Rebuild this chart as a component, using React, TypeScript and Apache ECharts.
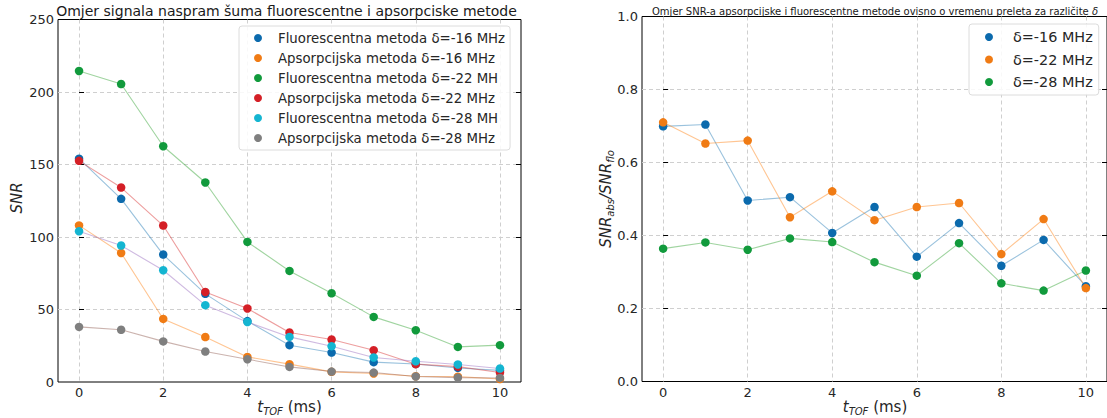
import React, { useEffect, useRef } from "react";
import * as echarts from "echarts";

// ---- data ----
const tof = [0, 1, 2, 3, 4, 5, 6, 7, 8, 9, 10];
const xTickValues = [0, 2, 4, 6, 8, 10];
const leftYLabels = [0, 50, 100, 150, 200, 250];
const leftYInner = [50, 100, 150, 200];
const rightYLabels = [0, 0.2, 0.4, 0.6, 0.8, 1.0];
const rightYInner = [0.2, 0.4, 0.6, 0.8];

const fluo16 = [154, 126.3, 87.9, 60.8, 42, 25.4, 20.3, 13.7, 12.4, 9.7, 8.0];
const abs16 = [108, 89, 43.5, 31, 17.3, 12.3, 7, 5.9, 4, 3.7, 2.1];
const fluo22 = [214.5, 205.5, 162.6, 137.6, 96.6, 76.6, 61.2, 44.9, 35.7, 24.2, 25.4];
const abs22 = [152.5, 134.1, 107.9, 62.1, 50.7, 34.1, 29.3, 21.9, 12.3, 10.6, 6.5];
const fluo28 = [104, 94.1, 77.1, 53, 41.4, 31.1, 24.7, 16.9, 14.3, 12.1, 9.3];
const abs28 = [38, 36, 28, 21, 15.7, 10.4, 7.2, 6.5, 3.8, 3, 2.8];

const ratio16 = [0.699, 0.704, 0.496, 0.505, 0.407, 0.478, 0.342, 0.434, 0.317, 0.388, 0.261];
const ratio22 = [0.71, 0.652, 0.66, 0.45, 0.521, 0.442, 0.478, 0.489, 0.349, 0.445, 0.256];
const ratio28 = [0.364, 0.381, 0.361, 0.392, 0.382, 0.327, 0.29, 0.379, 0.269, 0.249, 0.304];

const leftNames = [
  "Fluorescentna metoda δ=-16 MHz",
  "Apsorpcijska metoda δ=-16 MHz",
  "Fluorescentna metoda δ=-22 MH",
  "Apsorpcijska metoda δ=-22 MHz",
  "Fluorescentna metoda δ=-28 MH",
  "Apsorpcijska metoda δ=-28 MHz",
];
const rightNames = ["δ=-16 MHz", "δ=-22 MHz", "δ=-28 MHz"];

const leftTitle = "Omjer signala naspram šuma fluorescentne i apsorpciske metode";
const rightTitle = "Omjer SNR-a apsorpcijske i fluorescentne metode ovisno o vremenu preleta za različite ";

const FONT = "DejaVu Sans";
const TXT = "#262626";
const pointColors = ["#0b6aad", "#f07b14", "#119a3c", "#d41f26", "#14b5d1", "#7f7f7f"];
const lineColors = ["#1f77b4", "#ff7f0e", "#2ca02c", "#d62728", "#9467bd", "#8c564b"];

const pairs = (ys: number[]) => tof.map((x, i) => [x, ys[i]]);

export default function App() {
  const ref = useRef<HTMLDivElement>(null);
  useEffect(() => {
    if (!ref.current) return;
    const chart = echarts.init(ref.current, null, { renderer: "svg" });

    const leftData = [fluo16, abs16, fluo22, abs22, fluo28, abs28];
    const rightData = [ratio16, ratio22, ratio28];

    const series: any[] = [];
    const addLines = (data: number[][], xi: number, yi: number) =>
      data.forEach((d, i) =>
        series.push({
          type: "line", xAxisIndex: xi, yAxisIndex: yi, data: pairs(d),
          symbol: "none", silent: true, z: 2,
          lineStyle: { color: lineColors[i], width: 1.1, opacity: 0.45 },
        })
      );
    const addPoints = (data: number[][], names: string[], xi: number, yi: number) =>
      data.forEach((d, i) =>
        series.push({
          type: "scatter", name: names[i], xAxisIndex: xi, yAxisIndex: yi, data: pairs(d),
          symbolSize: 8.5, z: 3, itemStyle: { color: pointColors[i], opacity: 1 },
        })
      );
    addLines(leftData, 0, 0);
    addPoints(leftData, leftNames, 0, 0);
    addLines(rightData, 1, 2);
    addPoints(rightData, rightNames, 1, 2);

    const splitLine = { show: true, lineStyle: { color: "#cfcfcf", width: 1, type: [4, 3] } };
    const xAxisBase = (gridIndex: number) => ({
      gridIndex, type: "value", min: -0.5, max: 10.5,
      axisLine: { show: false },
      axisTick: { show: false, customValues: xTickValues },
      axisLabel: { customValues: xTickValues, fontSize: 13, fontFamily: FONT, color: TXT, margin: 4 },
      splitLine,
    });
    const yTick = (vals: number[]) => ({
      show: true, inside: true, length: 5, customValues: vals, lineStyle: { color: "#000", width: 1 },
    });

    const legendCommon = {
      orient: "vertical", icon: "circle", itemWidth: 8, itemHeight: 8,
      backgroundColor: "rgba(255,255,255,0.85)", borderColor: "#dcdcdc", borderWidth: 1, borderRadius: 3,
      z: 6,
    };

    const option: any = {
      animation: false,
      grid: [
        { left: 58, top: 19.5, width: 463, height: 362.5, show: true, borderColor: "#000", borderWidth: 1, backgroundColor: "transparent" },
        { left: 642, top: 16.5, width: 467, height: 365, show: true, borderColor: "#000", borderWidth: 1, backgroundColor: "transparent" },
      ],
      xAxis: [xAxisBase(0), xAxisBase(1)],
      yAxis: [
        {
          gridIndex: 0, type: "value", min: 0, max: 250, position: "left",
          axisLine: { show: false }, axisTick: yTick(leftYInner),
          axisLabel: { customValues: leftYLabels, fontSize: 13, fontFamily: FONT, color: TXT, margin: 4 },
          splitLine,
        },
        {
          gridIndex: 0, type: "value", min: 0, max: 250, position: "right",
          axisLine: { show: false }, axisTick: yTick(leftYInner), axisLabel: { show: false }, splitLine: { show: false },
        },
        {
          gridIndex: 1, type: "value", min: 0, max: 1, position: "left",
          axisLine: { show: false }, axisTick: yTick(rightYInner),
          axisLabel: { customValues: rightYLabels, fontSize: 13, fontFamily: FONT, color: TXT, margin: 4, formatter: (v: number) => v.toFixed(1) },
          splitLine,
        },
        {
          gridIndex: 1, type: "value", min: 0, max: 1, position: "right",
          axisLine: { show: false }, axisTick: yTick(rightYInner), axisLabel: { show: false }, splitLine: { show: false },
        },
      ],
      legend: [
        {
          ...legendCommon,
          data: leftNames, left: 239, top: 26, itemGap: 6,
          padding: [5, 5, 5, 15],
          textStyle: { fontSize: 13.3, fontFamily: FONT, color: TXT, lineHeight: 14, padding: [0, 0, 0, 11] },
        },
        {
          ...legendCommon,
          data: rightNames, left: 969, top: 24, itemGap: 6.5,
          padding: [5, 6, 5, 16],
          textStyle: { fontSize: 14.4, fontFamily: FONT, color: TXT, lineHeight: 16, padding: [0, 0, 0, 15] },
        },
      ],
      graphic: [
        {
          type: "text", x: 286.5, y: 11, z: 10,
          style: { text: leftTitle, fontSize: 14, fontFamily: FONT, fill: "#1a1a1a", align: "center", verticalAlign: "middle" },
        },
        {
          type: "text", x: 875, y: 11, z: 10,
          style: {
            text: rightTitle + "{i|δ}",
            fontSize: 10, fontFamily: FONT, fill: "#1a1a1a", align: "center", verticalAlign: "middle",
            rich: { i: { fontSize: 10, fontFamily: FONT, fontStyle: "italic", fill: "#1a1a1a" } },
          },
        },
        {
          type: "text", x: 17, y: 198, rotation: Math.PI / 2, z: 10,
          style: { text: "SNR", fontSize: 15, fontFamily: FONT, fontStyle: "italic", fill: TXT, align: "center", verticalAlign: "middle" },
        },
        {
          type: "text", x: 606, y: 199, rotation: Math.PI / 2, z: 10,
          style: {
            text: "{a|SNR}{s|abs}{a|/SNR}{s|flo}",
            align: "center", verticalAlign: "middle", fill: TXT,
            rich: {
              a: { fontSize: 15, fontFamily: FONT, fontStyle: "italic", fill: TXT, lineHeight: 18 },
              s: { fontSize: 10, fontFamily: FONT, fontStyle: "italic", fill: TXT, lineHeight: 12, verticalAlign: "bottom" },
            },
          },
        },
        ...[289.5, 875].map((x) => ({
          type: "text", x, y: 407, z: 10,
          style: {
            text: "{a|t}{s|TOF}{n| (ms)}",
            align: "center", verticalAlign: "middle", fill: TXT,
            rich: {
              a: { fontSize: 15, fontFamily: FONT, fontStyle: "italic", fill: TXT, lineHeight: 18 },
              s: { fontSize: 10, fontFamily: FONT, fontStyle: "italic", fill: TXT, lineHeight: 12, verticalAlign: "bottom" },
              n: { fontSize: 15, fontFamily: FONT, fill: TXT, lineHeight: 18 },
            },
          },
        })),
      ],
      series,
    };
    chart.setOption(option);
    return () => chart.dispose();
  }, []);
  return (
    <div
      ref={ref}
      style={{ position: "absolute", left: 0, top: 0, width: 1107, height: 418, background: "#fff" }}
    />
  );
}
